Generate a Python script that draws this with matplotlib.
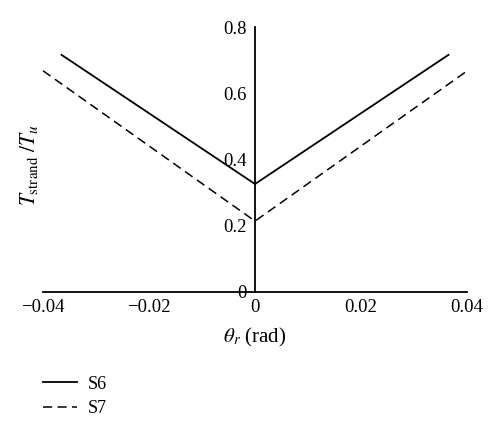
import matplotlib
matplotlib.use("Agg")
import matplotlib.pyplot as plt

# Data
s6_x = [-0.0365, 0.0, 0.0365]
s6_y = [0.716, 0.326, 0.716]
s7_x = [-0.0400, 0.0, 0.0398]
s7_y = [0.668, 0.214, 0.665]
x_ticks = [-0.04, -0.02, 0, 0.02, 0.04]
x_tick_labels = ["\u22120.04", "\u22120.02", "0", "0.02", "0.04"]
y_ticks = [0, 0.2, 0.4, 0.6, 0.8]
y_tick_labels = ["0", "0.2", "0.4", "0.6", "0.8"]

plt.rcParams['font.family'] = ['Liberation Serif', 'DejaVu Serif']
plt.rcParams['mathtext.fontset'] = 'stix'

fig = plt.figure(figsize=(5.0, 4.36), dpi=100)
ax = fig.add_axes([0.086, 0.3303, 0.848, 0.6077])

l1, = ax.plot(s6_x, s6_y, color='black', lw=1.3, label='S6', clip_on=False)
l2, = ax.plot(s7_x, s7_y, color='black', lw=1.1, ls=(0, (6, 3.5)), label='S7', clip_on=False)

ax.set_xlim(-0.04, 0.04)
ax.set_ylim(0, 0.8)

ax.spines['left'].set_position(('data', 0))
ax.spines['bottom'].set_position(('data', 0))
ax.spines['right'].set_visible(False)
ax.spines['top'].set_visible(False)
for sp in ('left', 'bottom'):
    ax.spines[sp].set_linewidth(1.3)

ax.set_xticks(x_ticks)
ax.set_xticklabels(x_tick_labels)
ax.set_yticks(y_ticks)
ax.set_yticklabels(y_tick_labels)
ax.tick_params(axis='both', length=0, labelsize=13.5)
ax.tick_params(axis='y', pad=6)
ax.tick_params(axis='x', pad=5)

fig.text(0.058, 0.621, r'$T_{\mathrm{strand}}\ /T_u$', rotation=90,
         ha='center', va='center', fontsize=15.5)
fig.text(0.51, 0.227, r'$\theta_r$ (rad)', ha='center', va='center', fontsize=15)

fig.legend(handles=[l1, l2], loc='upper left', bbox_to_anchor=(0.072, 0.155),
           frameon=False, fontsize=13, handlelength=1.85, handletextpad=0.6,
           labelspacing=0.4, borderaxespad=0)

fig.savefig('out.png', dpi=100)
